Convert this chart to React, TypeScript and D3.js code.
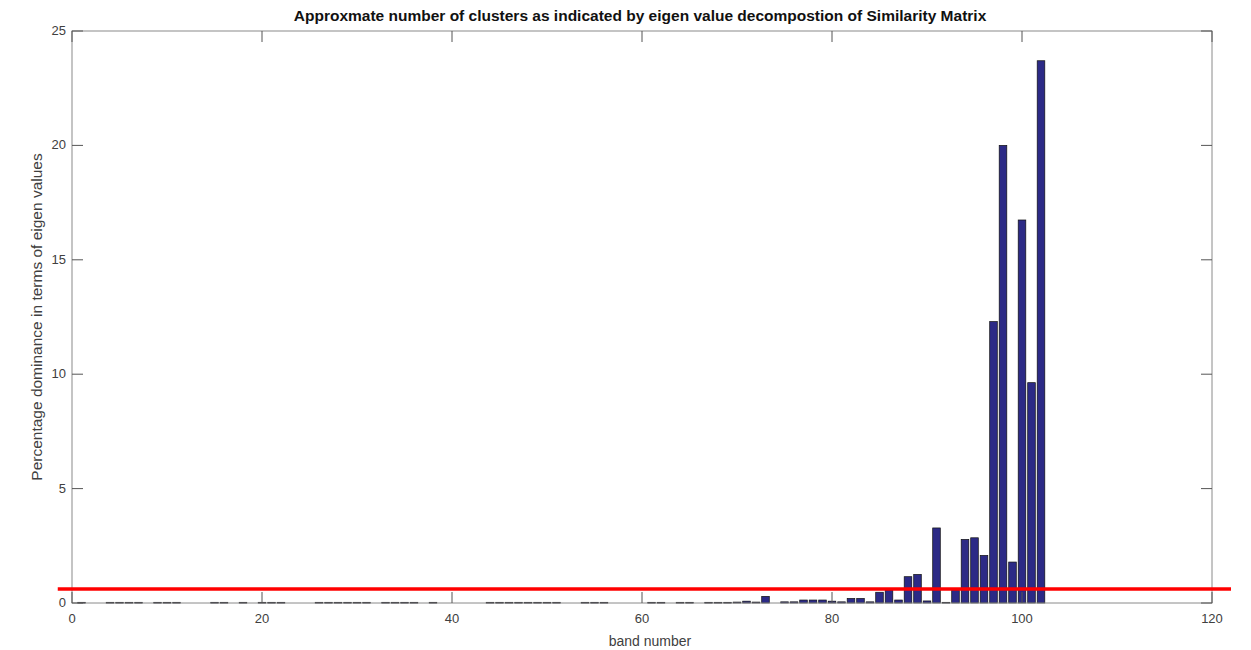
import React from "react";
import * as d3 from "d3";

const bandNumbers: number[] = [
  1, 4, 5, 6, 7, 9, 10, 11, 15, 16, 18, 20, 21, 22, 26, 27, 28, 29, 30, 31,
  33, 34, 35, 36, 38, 44, 45, 46, 47, 48, 49, 50, 51, 54, 55, 56, 61, 62, 64, 65,
  67, 68, 69, 70, 71, 72, 73, 75, 76, 77, 78, 79, 80, 81, 82, 83, 84, 85, 86, 87,
  88, 89, 90, 91, 92, 93, 94, 95, 96, 97, 98, 99, 100, 101, 102,
];
const dominance: number[] = [
  0.03, 0.03, 0.03, 0.03, 0.03, 0.03, 0.03, 0.03, 0.03, 0.03, 0.03, 0.03, 0.03, 0.03, 0.03, 0.03, 0.03, 0.03, 0.03, 0.03,
  0.03, 0.03, 0.03, 0.03, 0.03, 0.03, 0.03, 0.03, 0.03, 0.03, 0.03, 0.03, 0.03, 0.03, 0.03, 0.03, 0.03, 0.03, 0.03, 0.03,
  0.03, 0.03, 0.03, 0.04, 0.08, 0.04, 0.29, 0.05, 0.05, 0.13, 0.13, 0.13, 0.08, 0.05, 0.2, 0.2, 0.05, 0.47, 0.57, 0.13,
  1.15, 1.25, 0.09, 3.28, 0.03, 0.57, 2.78, 2.85, 2.08, 12.3, 20.0, 1.79, 16.74, 9.63, 23.7,
];
const xTicks: number[] = [0, 20, 40, 60, 80, 100, 120];
const yTicks: number[] = [0, 5, 10, 15, 20, 25];
const threshold = 0.61;

const title =
  "Approxmate number of clusters as indicated by eigen value decompostion of Similarity Matrix";
const xLabel = "band number";
const yLabel = "Percentage dominance in terms of eigen values";

export default function App() {
  const W = 1251;
  const H = 650;
  const left = 72;
  const right = 1212;
  const top = 31;
  const bottom = 603;
  const x = d3.scaleLinear().domain([0, 120]).range([left, right]);
  const y = d3.scaleLinear().domain([0, 25]).range([bottom, top]);
  const bw = (x(1) - x(0)) * 0.8;
  const tickLen = 11;
  const font = "Liberation Sans, Arial, Helvetica, sans-serif";
  const axisColor = "#8a8a8a";
  const textColor = "#404040";

  return (
    <svg
      width={W}
      height={H}
      style={{ position: "absolute", left: 0, top: 0, background: "#fff" }}
      fontFamily={font}
    >
      <rect x={0} y={0} width={W} height={H} fill="#fff" />
      {/* bars */}
      {bandNumbers.map((b, i) => (
        <rect
          key={b}
          x={x(b) - bw / 2}
          y={y(dominance[i])}
          width={bw}
          height={Math.max(0.8, y(0) - y(dominance[i]))}
          fill="#2c2a86"
          stroke="#111"
          strokeWidth={0.7}
        />
      ))}
      {/* box */}
      <rect
        x={left}
        y={top}
        width={right - left}
        height={bottom - top}
        fill="none"
        stroke={axisColor}
        strokeWidth={1}
      />
      {/* x ticks */}
      {xTicks.map((t) => (
        <g key={"x" + t}>
          <line x1={x(t)} x2={x(t)} y1={bottom} y2={bottom - tickLen} stroke="#555" />
          <line x1={x(t)} x2={x(t)} y1={top} y2={top + tickLen} stroke="#555" />
          <text
            x={x(t)}
            y={bottom + 20}
            textAnchor="middle"
            fontSize={13}
            fill={textColor}
          >
            {t}
          </text>
        </g>
      ))}
      {/* y ticks */}
      {yTicks.map((t) => (
        <g key={"y" + t}>
          <line x1={left} x2={left + tickLen} y1={y(t)} y2={y(t)} stroke="#555" />
          <line x1={right} x2={right - tickLen} y1={y(t)} y2={y(t)} stroke="#555" />
          <text
            x={left - 6}
            y={y(t) + 4}
            textAnchor="end"
            fontSize={13}
            fill={textColor}
          >
            {t}
          </text>
        </g>
      ))}
      {/* threshold line */}
      <line
        x1={x(-1.5)}
        x2={x(122)}
        y1={y(threshold)}
        y2={y(threshold)}
        stroke="#ff0000"
        strokeWidth={3.5}
      />
      {/* labels */}
      <text
        x={(left + right) / 2 - 2}
        y={21}
        textAnchor="middle"
        fontSize={15.5}
        fontWeight="bold"
        fill="#111"
      >
        {title}
      </text>
      <text
        x={(left + right) / 2 + 8}
        y={646}
        textAnchor="middle"
        fontSize={14}
        fill={textColor}
      >
        {xLabel}
      </text>
      <text
        transform={`translate(42, ${(top + bottom) / 2}) rotate(-90)`}
        textAnchor="middle"
        fontSize={15.5}
        fill={textColor}
      >
        {yLabel}
      </text>
    </svg>
  );
}
